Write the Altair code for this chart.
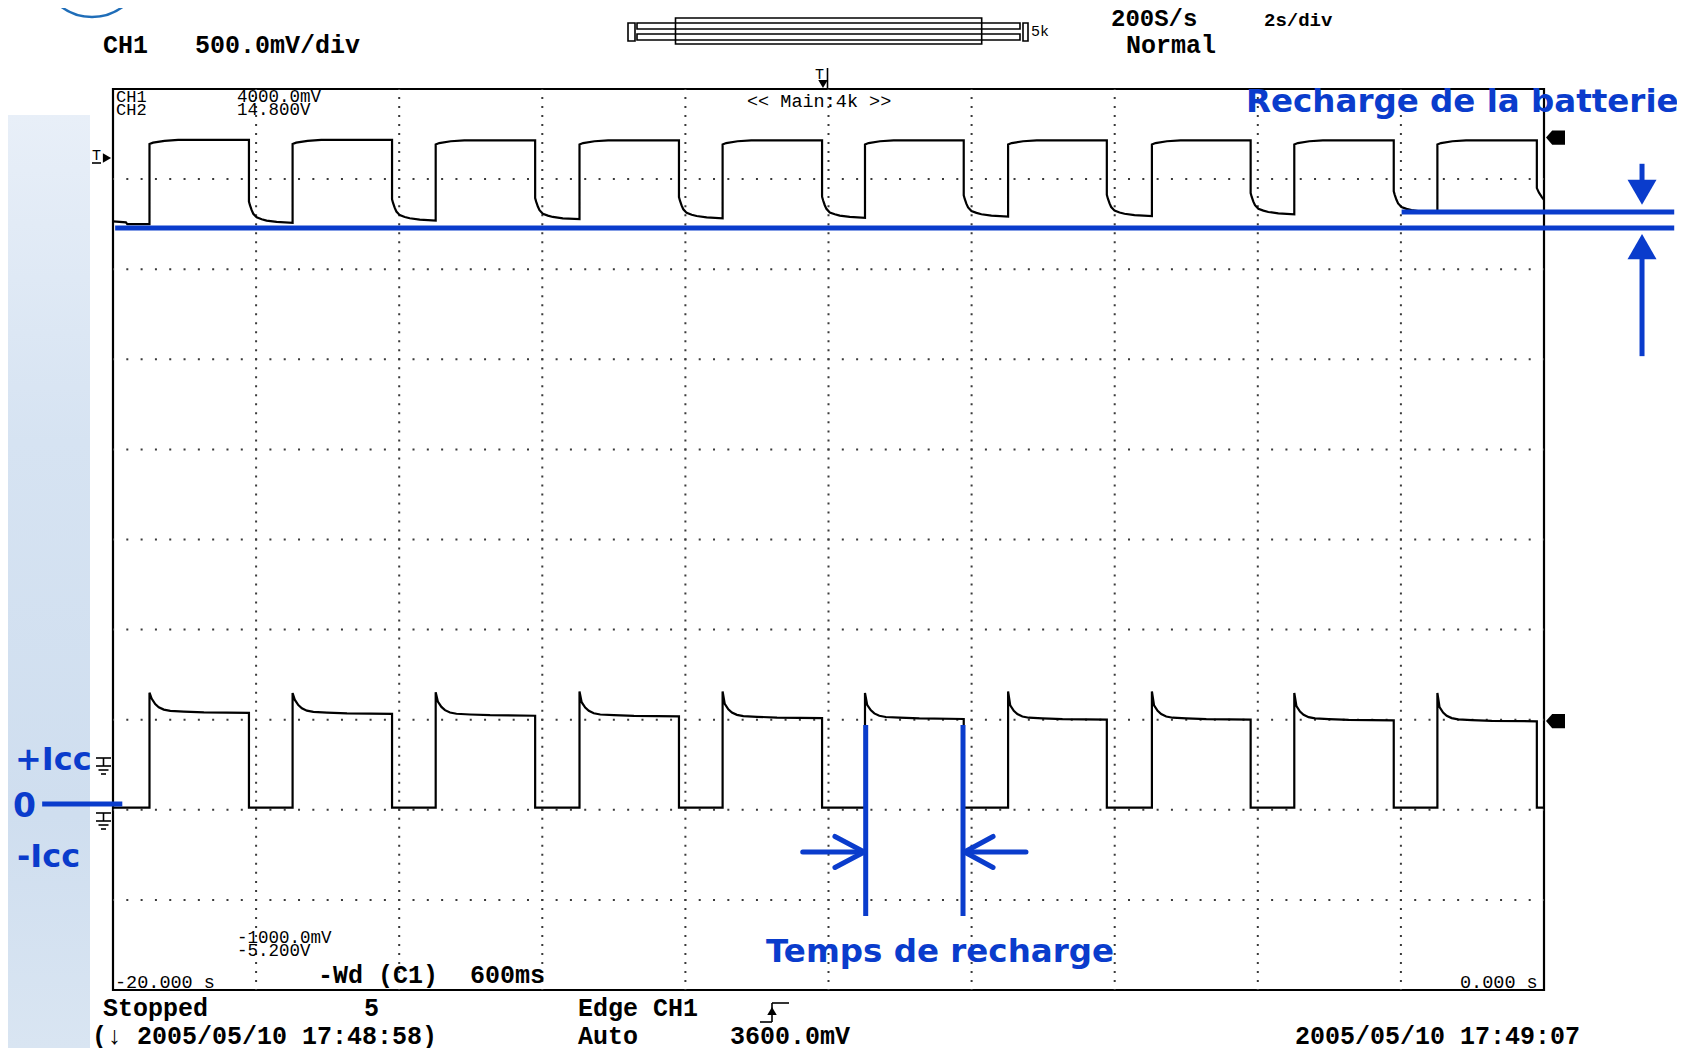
import altair as alt
import pandas as pd

# ------------------------------------------------------------------
# values read from the oscilloscope screen
# ------------------------------------------------------------------
T_RANGE = [-20.0, 0.0]            # s   (-20.000 s ... 0.000 s, 2 s/div)
CH1_RANGE = [-1000.0, 4000.0]     # mV  (500 mV/div)
CH2_RANGE = [-5.2, 14.8]          # V   (2 V/div)
GRID_T = [-18, -16, -14, -12, -10, -8, -6, -4, -2]
GRID_MV = [-500, 0, 500, 1000, 1500, 2000, 2500, 3000, 3500]

RISE_T = [-19.49, -17.49, -15.49, -13.48, -11.48, -9.49, -7.49, -5.48, -3.49, -1.49]
FALL_T = [-18.10, -16.10, -14.10, -12.09, -10.09, -8.11, -6.11, -4.10, -2.10, -0.10]

# lower trace (CH1, mV)
CH1_LOW = 12
CH1_PEAK = [650, 648, 652, 657, 657, 648, 657, 657, 648, 648]
CH1_END = [538, 532, 522, 518, 509, 504, 500, 500, 496, 491]
CH1_DECAY_DT = [0.03, 0.08, 0.13, 0.20, 0.29, 0.48, 0.76]
CH1_DECAY_DV = [79, 49, 31, 18, 11, 7, 3]

# upper trace (CH2, V)
CH2_START_T = [-20.0, -19.82, -19.80]
CH2_START_V = [11.86, 11.84, 11.80]
CH2_HIGH = [13.67, 13.67, 13.66, 13.66, 13.66, 13.66, 13.66, 13.66, 13.66, 13.66]
CH2_RISE_DT = [0.0, 0.05, 0.21, 0.40]
CH2_RISE_DV = [-0.09, -0.06, -0.02, 0.0]
CH2_LOW_END = [11.83, 11.88, 11.91, 11.93, 11.94, 11.97, 11.98, 12.02, 12.06]
CH2_DECAY_DT = [0.0, 0.014, 0.038, 0.061, 0.108, 0.178, 0.247, 0.387]
CH2_DECAY_DV = [0.47, 0.39, 0.28, 0.20, 0.12, 0.08, 0.05, 0.02]
CH2_TAIL_T = [-0.10, -0.07, -0.03, 0.0]
CH2_TAIL_V = [12.60, 12.50, 12.40, 12.34]

# blue annotations (data units)
BAT_LINE_T0 = [-19.97, -1.99]
BAT_LINE_T1 = [1.82, 1.82]
BAT_LINE_V = [11.715, 12.07]
BAT_ARROW_T = 1.37
RECH_T = [-9.48, -8.12]
RECH_MV = [471, -589]

# ------------------------------------------------------------------
# layout / style
# ------------------------------------------------------------------
OX, OY = 8, 8          # page margin: chart pixel = reference pixel - 8
W, H = 1669, 1040
BLUE = "#0a3ccc"
MONO = "Liberation Mono"
SANS = "DejaVu Sans"

XS = alt.Scale(domain=T_RANGE, range=[113 - OX, 1544 - OX], nice=False, zero=False)
Y1S = alt.Scale(domain=CH1_RANGE, range=[990 - OY, 89 - OY], nice=False, zero=False)
Y2S = alt.Scale(domain=CH2_RANGE, range=[990 - OY, 89 - OY], nice=False, zero=False)


def X(f):
    return alt.X(f, type="quantitative", scale=XS, axis=None)


def Y1(f):
    return alt.Y(f, type="quantitative", scale=Y1S, axis=None)


def Y2(f):
    return alt.Y(f, type="quantitative", scale=Y2S, axis=None)


def PX(f):
    return alt.X(f, type="quantitative", scale=None, axis=None)


def PY(f):
    return alt.Y(f, type="quantitative", scale=None, axis=None)


# ------------------------------------------------------------------
# traces
# ------------------------------------------------------------------
def lower_trace():
    pts = [(T_RANGE[0], CH1_LOW)]
    for k in range(len(RISE_T)):
        r, f = RISE_T[k], FALL_T[k]
        pts += [(r, CH1_LOW), (r, CH1_PEAK[k])]
        pts += [(r + dt, CH1_END[k] + dv) for dt, dv in zip(CH1_DECAY_DT, CH1_DECAY_DV)]
        pts += [(f, CH1_END[k]), (f, CH1_LOW)]
    pts.append((T_RANGE[1], CH1_LOW))
    return pd.DataFrame({"t": [p[0] for p in pts], "v": [p[1] for p in pts], "i": range(len(pts))})


def upper_trace():
    pts = list(zip(CH2_START_T, CH2_START_V))
    prev = CH2_START_V[-1]
    for k in range(len(RISE_T)):
        r, f = RISE_T[k], FALL_T[k]
        pts.append((r, prev))
        pts += [(r + dt, CH2_HIGH[k] + dv) for dt, dv in zip(CH2_RISE_DT, CH2_RISE_DV)]
        pts.append((f, CH2_HIGH[k]))
        if k < len(CH2_LOW_END):
            pts += [(f + dt, CH2_LOW_END[k] + dv) for dt, dv in zip(CH2_DECAY_DT, CH2_DECAY_DV)]
            prev = CH2_LOW_END[k]
        else:
            pts += list(zip(CH2_TAIL_T, CH2_TAIL_V))
    return pd.DataFrame({"t": [p[0] for p in pts], "v": [p[1] for p in pts], "i": range(len(pts))})


layers = []

# ---- background (left textured strip) ----
bg = pd.DataFrame({"x0": [0], "x1": [90 - OX], "y0": [115 - OY], "y1": [H]})
layers.append(
    alt.Chart(bg).mark_rect(
        color=alt.Gradient(
            gradient="linear",
            stops=[
                alt.GradientStop(color="#e8eff8", offset=0),
                alt.GradientStop(color="#d6e3f2", offset=0.35),
                alt.GradientStop(color="#cfdeef", offset=0.75),
                alt.GradientStop(color="#d9e5f2", offset=1),
            ],
            x1=0, x2=0, y1=0, y2=1,
        )
    ).encode(x=PX("x0"), x2="x1", y=PY("y0"), y2="y1")
)

# logo arc (top-left)
layers.append(
    alt.Chart(pd.DataFrame({"x": [92 - OX], "y": [-34 - OY]})).mark_point(
        shape="circle", filled=False, stroke="#1f6db8", strokeWidth=2.5, size=102 * 102, opacity=1
    ).encode(x=PX("x"), y=PY("y"))
)

# ---- screen frame ----
frame = pd.DataFrame({"t0": [T_RANGE[0]], "t1": [T_RANGE[1]], "v0": [CH1_RANGE[0]], "v1": [CH1_RANGE[1]]})
layers.append(
    alt.Chart(frame).mark_rect(fillOpacity=0, stroke="black", strokeWidth=2.2).encode(
        x=X("t0"), x2="t1", y=Y1("v0"), y2="v1"
    )
)

# ---- dotted graticule ----
gv = pd.DataFrame({"t": GRID_T, "v0": CH1_RANGE[0], "v1": CH1_RANGE[1]})
layers.append(
    alt.Chart(gv).mark_rule(color="#3a3a3a", strokeWidth=2, strokeDash=[2, 7.01], strokeDashOffset=1).encode(
        x=X("t"), y=Y1("v0"), y2="v1"
    )
)
gh = pd.DataFrame({"v": GRID_MV, "t0": T_RANGE[0], "t1": T_RANGE[1]})
layers.append(
    alt.Chart(gh).mark_rule(color="#3a3a3a", strokeWidth=2, strokeDash=[2, 12.31], strokeDashOffset=1).encode(
        x=X("t0"), x2="t1", y=Y1("v")
    )
)

# ---- traces ----
layers.append(
    alt.Chart(upper_trace()).mark_line(color="black", strokeWidth=2.2, interpolate="linear").encode(
        x=X("t"), y=Y2("v"), order=alt.Order("i:Q")
    )
)
layers.append(
    alt.Chart(lower_trace()).mark_line(color="black", strokeWidth=2.2, interpolate="linear").encode(
        x=X("t"), y=Y1("v"), order=alt.Order("i:Q")
    )
)

# ---- blue annotations: battery recharge ----
bl = pd.DataFrame({"t0": BAT_LINE_T0, "t1": BAT_LINE_T1, "v": BAT_LINE_V})
layers.append(
    alt.Chart(bl).mark_rule(color=BLUE, strokeWidth=5).encode(x=X("t0"), x2="t1", y=Y2("v"))
)
shafts = pd.DataFrame({"t": [BAT_ARROW_T, BAT_ARROW_T], "v0": [13.14, 8.87], "v1": [12.55, 11.35]})
layers.append(
    alt.Chart(shafts).mark_rule(color=BLUE, strokeWidth=5).encode(x=X("t"), y=Y2("v0"), y2="v1")
)
layers.append(
    alt.Chart(pd.DataFrame({"t": [BAT_ARROW_T], "v": [12.507]})).mark_point(
        shape="triangle-down", filled=True, color=BLUE, size=841, opacity=1
    ).encode(x=X("t"), y=Y2("v"))
)
layers.append(
    alt.Chart(pd.DataFrame({"t": [BAT_ARROW_T], "v": [11.30]})).mark_point(
        shape="triangle-up", filled=True, color=BLUE, size=841, opacity=1
    ).encode(x=X("t"), y=Y2("v"))
)

# ---- blue annotations: recharge time ----
rv = pd.DataFrame({"t": RECH_T, "v0": RECH_MV[0], "v1": RECH_MV[1]})
layers.append(
    alt.Chart(rv).mark_rule(color=BLUE, strokeWidth=5).encode(x=X("t"), y=Y1("v0"), y2="v1")
)
arrows = pd.DataFrame(
    {
        "g": ["a", "a", "b", "b", "b", "c", "c", "d", "d", "d"],
        "t": [-10.36, -9.50, -9.91, -9.50, -9.91, -7.24, -8.10, -7.70, -8.10, -7.70],
        "v": [-234, -234, -148, -234, -320, -234, -234, -148, -234, -320],
        "i": [0, 1, 0, 1, 2, 0, 1, 0, 1, 2],
    }
)
layers.append(
    alt.Chart(arrows).mark_line(color=BLUE, strokeWidth=5, strokeCap="round", strokeJoin="round").encode(
        x=X("t"), y=Y1("v"), detail="g:N", order=alt.Order("i:Q")
    )
)
# zero-current marker line
layers.append(
    alt.Chart(pd.DataFrame({"t0": [-20.99], "t1": [-19.87], "v": [32]})).mark_rule(
        color=BLUE, strokeWidth=5
    ).encode(x=X("t0"), x2="t1", y=Y1("v"))
)

# ---- screen decorations (pixel layout) ----
bars = [(628, 23, 635, 41), (637, 23, 1020, 29), (637, 34, 1020, 40), (675.5, 18, 981.7, 44), (1023, 23, 1028, 41)]
bars_df = pd.DataFrame(
    {"x0": [b[0] - OX for b in bars], "y0": [b[1] - OY for b in bars], "x1": [b[2] - OX for b in bars], "y1": [b[3] - OY for b in bars]}
)
layers.append(
    alt.Chart(bars_df).mark_rect(fillOpacity=0, stroke="black", strokeWidth=1.6).encode(
        x=PX("x0"), x2="x1", y=PY("y0"), y2="y1"
    )
)

segs = [
    # top trigger marker stem
    (827.5, 68, 827.5, 89),
    # ground symbols
    (96, 758, 111, 758), (103.5, 758, 103.5, 766), (96, 766, 111, 766), (98.5, 770, 108.5, 770), (101, 774, 106, 774),
    (96, 813, 111, 813), (103.5, 813, 103.5, 821), (96, 821, 111, 821), (98.5, 825, 108.5, 825), (101, 829, 106, 829),
    # trigger edge symbol
    (760, 1022, 772, 1022), (772, 1022, 772, 1003), (772, 1003, 789, 1003),
    # left trigger marker underline
    (92, 163, 101, 163),
]
segs_df = pd.DataFrame(
    {"x0": [s[0] - OX for s in segs], "y0": [s[1] - OY for s in segs], "x1": [s[2] - OX for s in segs], "y1": [s[3] - OY for s in segs]}
)
layers.append(
    alt.Chart(segs_df).mark_rule(color="black", strokeWidth=1.6).encode(
        x=PX("x0"), x2="x1", y=PY("y0"), y2="y1"
    )
)

marks_df = pd.DataFrame(
    {
        "x": [823 - OX, 107 - OX, 772 - OX],
        "y": [84 - OY, 158 - OY, 1011 - OY],
        "shape": ["triangle-down", "triangle-right", "triangle-up"],
    }
)
layers.append(
    alt.Chart(marks_df).mark_point(filled=True, color="black", size=90, opacity=1).encode(
        x=PX("x"), y=PY("y"), shape=alt.Shape("shape:N", scale=None, legend=None)
    )
)
layers.append(
    alt.Chart(pd.DataFrame({"x": [1555.5 - OX, 1555.5 - OX], "y": [137.5 - OY, 721 - OY]})).mark_point(
        shape="M-1,0L-0.35,-0.75L1,-0.75L1,0.75L-0.35,0.75Z", filled=True, color="black", size=361, opacity=1
    ).encode(x=PX("x"), y=PY("y"))
)


# ---- texts ----
def text_layer(rows, font, weight, color):
    df = pd.DataFrame([{"text": t, "x": x - OX, "y": y - OY, "s": s} for t, x, y, s in rows])
    return alt.Chart(df).mark_text(
        font=font, fontWeight=weight, color=color, align="left", baseline="alphabetic"
    ).encode(
        x=PX("x"), y=PY("y"), text="text:N", size=alt.Size("s:Q", scale=None, legend=None)
    )


SCOPE_BOLD = [
    ("CH1", 103, 53, 25),
    ("500.0mV/div", 195, 53, 25),
    ("200S/s", 1111, 26, 24),
    ("2s/div", 1264, 26, 19),
    ("Normal", 1126, 53, 25),
    ("-Wd (C1)", 318, 983, 25),
    ("600ms", 470, 983, 25),
    ("Stopped", 103, 1016, 25),
    ("5", 364, 1016, 25),
    ("(\u2193 2005/05/10 17:48:58)", 92, 1044, 25),
    ("Edge CH1", 578, 1016, 25),
    ("Auto", 578, 1044, 25),
    ("3600.0mV", 730, 1044, 25),
    ("2005/05/10 17:49:07", 1295, 1044, 25),
]
SCOPE_SMALL = [
    ("CH1", 116, 102, 17),
    ("CH2", 116, 115, 17),
    ("4000.0mV", 237, 102, 17.5),
    ("14.800V", 237, 115, 17.5),
    ("-1000.0mV", 237, 943, 17.5),
    ("-5.200V", 237, 956, 17.5),
    ("-20.000 s", 115, 988, 18.5),
    ("0.000 s", 1460, 988, 18.5),
    ("<< Main:4k >>", 747, 107, 18.5),
    ("5k", 1031, 36, 15),
    ("T", 92, 160, 15),
    ("T", 815, 79, 15),
]
BLUE_TEXT = [
    ("Recharge de la batterie", 1246, 112, 32.5),
    ("Temps de recharge", 766, 962, 32.5),
    ("+Icc", 15, 770, 32),
    ("0", 13, 817, 33),
    ("-Icc", 17, 867, 32),
]
layers.append(text_layer(SCOPE_BOLD, MONO, "bold", "black"))
layers.append(text_layer(SCOPE_SMALL, MONO, "normal", "black"))
layers.append(text_layer(BLUE_TEXT, SANS, "bold", BLUE))

chart = (
    alt.layer(*layers)
    .resolve_scale(x="independent", y="independent", shape="independent", size="independent")
    .properties(width=W, height=H, padding=0, autosize=alt.AutoSizeParams(type="none"), background="white")
    .configure_view(stroke=None)
)

chart.save("out.html", embed_options={"renderer": "svg", "actions": False})
